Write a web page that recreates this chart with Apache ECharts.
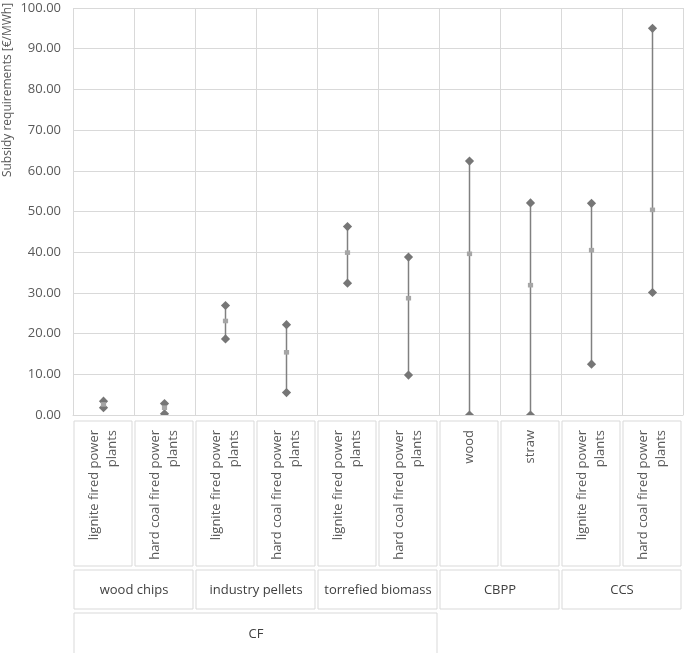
<!DOCTYPE html>
<html>
<head>
<meta charset="utf-8">
<script src="https://cdn.jsdelivr.net/npm/echarts@6/dist/echarts.min.js"></script>
<style>html,body{margin:0;padding:0;background:#fff}#c{width:685px;height:653px}</style>
</head>
<body>
<div id="c"></div>
<script>
const categories = [
  'lignite fired power plants', 'hard coal fired power plants',
  'lignite fired power plants', 'hard coal fired power plants',
  'lignite fired power plants', 'hard coal fired power plants',
  'wood', 'straw',
  'lignite fired power plants', 'hard coal fired power plants'
];
const categoryLines = [
  ['lignite fired power', 'plants'], ['hard coal fired power', 'plants'],
  ['lignite fired power', 'plants'], ['hard coal fired power', 'plants'],
  ['lignite fired power', 'plants'], ['hard coal fired power', 'plants'],
  ['wood'], ['straw'],
  ['lignite fired power', 'plants'], ['hard coal fired power', 'plants']
];
const groups = ['wood chips', 'industry pellets', 'torrefied biomass', 'CBPP', 'CCS'];
const groupSpans = [[0, 1], [2, 3], [4, 5], [6, 7], [8, 9]];
const topGroups = ['CF'];
const topGroupSpans = [[0, 5]];
const maxValues = [3.4, 2.8, 26.9, 22.2, 46.3, 38.8, 62.4, 52.1, 52.0, 95.0];
const minValues = [1.8, 0.3, 18.7, 5.5, 32.4, 9.8, 0.0, 0.0, 12.5, 30.1];
const meanValues = [2.6, 1.8, 23.1, 15.4, 39.9, 28.7, 39.6, 31.9, 40.5, 50.4];
const yTicks = [0, 10, 20, 30, 40, 50, 60, 70, 80, 90, 100];

const FONT = 'Open Sans';
const TXT = '#595959';
const BOX = '#d9d9d9';

const chart = echarts.init(document.getElementById('c'), null, {renderer: 'canvas'});

const data = categories.map((c, i) => [i, minValues[i], maxValues[i], meanValues[i]]);

function diamond(x, y, s, color) {
  return {
    type: 'polygon',
    shape: {points: [[x, y - s], [x + s, y], [x, y + s], [x - s, y]]},
    style: {fill: color}
  };
}

const option = {
  animation: false,
  grid: {left: 73, right: 2, top: 8, bottom: 238, containLabel: false},
  xAxis: {
    type: 'category',
    data: categories,
    boundaryGap: true,
    axisLine: {show: true, lineStyle: {color: BOX}},
    axisTick: {show: false, interval: 0},
    axisLabel: {show: false, interval: 0},
    splitLine: {show: true, interval: 0, lineStyle: {color: BOX, width: 1}}
  },
  yAxis: {
    type: 'value',
    min: yTicks[0],
    max: yTicks[yTicks.length - 1],
    interval: 10,
    axisLine: {show: false},
    axisTick: {show: false},
    axisLabel: {
      formatter: v => v.toFixed(2),
      color: TXT, fontFamily: FONT, fontSize: 13, margin: 12
    },
    splitLine: {show: true, lineStyle: {color: BOX, width: 1}}
  },
  series: [{
    type: 'custom',
    clip: true,
    data: data,
    encode: {x: 0, y: [1, 2, 3]},
    renderItem: function (params, api) {
      const cs = params.coordSys;
      const x = api.value(0);
      const pLo = api.coord([x, api.value(1)]);
      const pHi = api.coord([x, api.value(2)]);
      const pMid = api.coord([x, api.value(3)]);
      return {
        type: 'group',
        clipPath: {type: 'rect', shape: {x: cs.x, y: cs.y - 10, width: cs.width, height: cs.height + 10}},
        children: [
          {type: 'line', shape: {x1: pLo[0], y1: pLo[1], x2: pHi[0], y2: pHi[1]},
            style: {stroke: '#808080', lineWidth: 1.5}},
          diamond(pHi[0], pHi[1], 4.6, '#767676'),
          diamond(pLo[0], pLo[1], 4.6, '#767676'),
          {type: 'rect', shape: {x: pMid[0] - 2.6, y: pMid[1] - 2.3, width: 5.2, height: 4.6},
            style: {fill: '#a6a6a6'}}
        ]
      };
    }
  }],
  graphic: []
};

chart.setOption(option);

function bounds(i) {
  const c = chart.convertToPixel({xAxisIndex: 0}, i);
  const c2 = chart.convertToPixel({xAxisIndex: 0}, i + 1 < categories.length ? i + 1 : i - 1);
  const bw = Math.abs(c2 - c);
  return [c - bw / 2, c + bw / 2];
}

const gfx = [];
const y0 = chart.convertToPixel({yAxisIndex: 0}, 0);
const r1Top = y0 + 6, r1Bot = y0 + 151;
const r2Top = y0 + 155, r2Bot = y0 + 194;
const r3Top = y0 + 198, r3Bot = y0 + 260;

function box(x1, x2, yt, yb) {
  gfx.push({type: 'rect', shape: {x: x1, y: yt, width: x2 - x1, height: yb - yt},
    style: {fill: '#fff', stroke: BOX, lineWidth: 1}, silent: true});
}

categories.forEach((c, i) => {
  const [a, b] = bounds(i);
  box(a + 1, b - 2, r1Top, r1Bot);
  const lines = categoryLines[i];
  const cx = (a + b) / 2;
  const lh = 18.5;
  lines.forEach((ln, k) => {
    const off = (k - (lines.length - 1) / 2) * lh;
    gfx.push({
      type: 'text', silent: true,
      x: cx + off, y: r1Top + 9, rotation: Math.PI / 2,
      style: {text: ln, fill: TXT, font: '13px "' + FONT + '"', align: 'right', verticalAlign: 'middle'}
    });
  });
});

function drawGroups(names, spans, yt, yb) {
  names.forEach((g, j) => {
    const a = bounds(spans[j][0])[0];
    const b = bounds(spans[j][1])[1];
    box(a + 1, b - 2, yt, yb);
    gfx.push({
      type: 'text', silent: true,
      x: (a + b) / 2, y: yt + (Math.min(yb, 653) - yt) / 2 + 1,
      style: {text: g, fill: '#404040', font: '13px "' + FONT + '"', align: 'center', verticalAlign: 'middle'}
    });
  });
}
drawGroups(groups, groupSpans, r2Top, r2Bot);
drawGroups(topGroups, topGroupSpans, r3Top, r3Bot);

gfx.push({
  type: 'text', silent: true,
  x: 8, y: 90, rotation: Math.PI / 2,
  style: {text: 'Subsidy requirements [€/MWh]', fill: TXT, font: '12px "' + FONT + '"', align: 'center', verticalAlign: 'middle'}
});

chart.setOption({graphic: gfx});
</script>
</body>
</html>
